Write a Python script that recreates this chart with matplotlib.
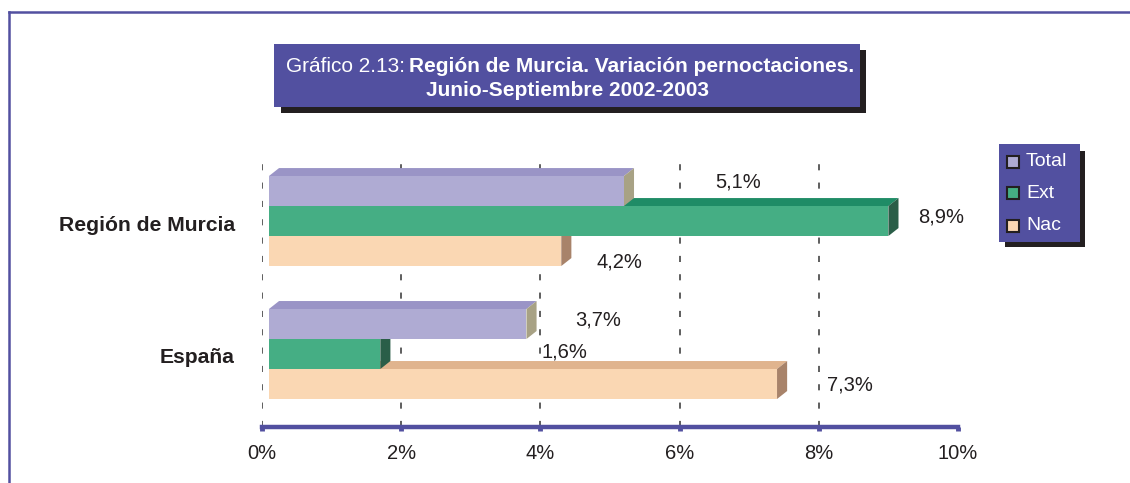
import matplotlib
matplotlib.use("Agg")
import matplotlib.pyplot as plt
from matplotlib.patches import Polygon, Rectangle
from matplotlib.lines import Line2D

plt.rcParams["font.family"] = ["Liberation Sans", "DejaVu Sans"]

W, H = 1130, 483
PURPLE = "#5250a0"
DARK = "#231f20"

# --- data ---
categories = ["Región de Murcia", "España"]
series = ["Total", "Ext", "Nac"]
total = [5.1, 3.7]
ext = [8.9, 1.6]
nac = [4.2, 7.3]
total_lbl = ["5,1%", "3,7%"]
ext_lbl = ["8,9%", "1,6%"]
nac_lbl = ["4,2%", "7,3%"]
xticks = [0, 2, 4, 6, 8, 10]
xtick_labels = ["0%", "2%", "4%", "6%", "8%", "10%"]

# --- style / layout ---
# front, top, side colours per series
COLORS = {
    "Total": ("#afabd3", "#9a94c6", "#a8a285"),
    "Ext": ("#45ae84", "#1f8c66", "#2a5e48"),
    "Nac": ("#fad7b3", "#e0b48e", "#a8836a"),
}
GROUP_Y = [1.0, 0.0]
BAR_H = 0.2256
X0 = 0.1           # small start offset of the front faces
DX, DY = 0.145, 0.06  # 3d depth
# where the value labels sit (x, y) in data units, same order as the series
LABEL_XY = {
    "Total": [(6.84, 1.293), (4.83, 0.256)],
    "Ext": [(9.76, 1.03), (4.35, 0.015)],
    "Nac": [(5.13, 0.692), (8.45, -0.233)],
}


def px(x, y):
    """pixel (from top-left) -> figure fraction"""
    return x / W, 1 - y / H


fig = plt.figure(figsize=(W / 100, H / 100), dpi=100)
ax = fig.add_axes([262 / W, (H - 427) / H, 696 / W, (427 - 160) / H])
ax.set_xlim(0, 10)
ax.set_ylim(-0.549, 1.459)

ax.vlines(xticks[:-1], -0.549, 1.459, colors="#333333", linestyles=(0, (4, 8)),
          linewidth=1.1, zorder=0)


def bar3d(v, yc, name, z):
    front, top, side = COLORS[name]
    x1 = X0 + v
    y0, y1 = yc - BAR_H / 2, yc + BAR_H / 2
    ax.add_patch(Polygon([(X0, y1), (X0 + DX, y1 + DY), (x1 + DX, y1 + DY), (x1, y1)],
                         closed=True, facecolor=top, edgecolor="none", zorder=z))
    ax.add_patch(Polygon([(x1, y0), (x1, y1), (x1 + DX, y1 + DY), (x1 + DX, y0 + DY)],
                         closed=True, facecolor=side, edgecolor="none", zorder=z))
    ax.add_patch(Rectangle((X0, y0), v, BAR_H, facecolor=front, edgecolor="none", zorder=z))


vals = {"Total": total, "Ext": ext, "Nac": nac}
lbls = {"Total": total_lbl, "Ext": ext_lbl, "Nac": nac_lbl}
offs = {"Total": BAR_H, "Ext": 0.0, "Nac": -BAR_H}
zs = {"Nac": 2, "Ext": 3, "Total": 4}
for name in ["Nac", "Ext", "Total"]:
    for i, yc in enumerate(GROUP_Y):
        bar3d(vals[name][i], yc + offs[name], name, zs[name])
        lx, ly = LABEL_XY[name][i]
        ax.text(lx, ly, lbls[name][i], ha="center", va="center", fontsize=14.5,
                color=DARK, zorder=6)

for cat, yc in zip(categories, GROUP_Y):
    ax.text(-0.39, yc - 0.03, cat, ha="right", va="center", fontsize=15.2,
            fontweight="bold", color=DARK)

for s in ["top", "right", "left"]:
    ax.spines[s].set_visible(False)
ax.spines["bottom"].set_color(PURPLE)
ax.spines["bottom"].set_linewidth(3.2)
ax.set_yticks([])
ax.set_xticks(xticks)
ax.set_xticklabels(xtick_labels, fontsize=14.5, color=DARK)
ax.tick_params(axis="x", length=3, width=3.5, color=PURPLE, pad=9)
ax.set_facecolor("none")

# frame lines
fig.add_artist(Line2D([px(9, 0)[0], 1], [px(0, 12)[1]] * 2, color=PURPLE, lw=1.8))
fig.add_artist(Line2D([px(9, 0)[0]] * 2, [px(0, 12)[1], 0], color=PURPLE, lw=1.8))


def box(x0, y0, x1, y1, color):
    fx, fy = px(x0, y1)
    fig.add_artist(Rectangle((fx, fy), (x1 - x0) / W, (y1 - y0) / H,
                             transform=fig.transFigure, facecolor=color,
                             edgecolor="none"))


# title
box(281, 50, 866, 113, DARK)
box(274, 44, 860, 107, PURPLE)
fig.text(*px(405, 67), "Gráfico 2.13:", ha="right", va="center", fontsize=15, color="white")
fig.text(*px(409, 67), "Región de Murcia. Variación pernoctaciones.", ha="left",
         va="center", fontsize=15, fontweight="bold", color="white")
fig.text(*px(567, 90), "Junio-Septiembre 2002-2003", ha="center", va="center",
         fontsize=15, fontweight="bold", color="white")

# legend
box(1005, 151, 1085, 247, DARK)
box(999, 144, 1080, 242, PURPLE)
for name, yy in zip(series, [162, 193, 226]):
    mx, my = px(1007, yy + 6)
    fig.add_artist(Rectangle((mx, my), 12 / W, 12 / H, transform=fig.transFigure,
                             facecolor=COLORS[name][0], edgecolor=DARK, lw=1.5))
    fig.text(*px(1026, yy), name, ha="left", va="center", fontsize=14, color="white")

fig.savefig("out.png", dpi=100)
